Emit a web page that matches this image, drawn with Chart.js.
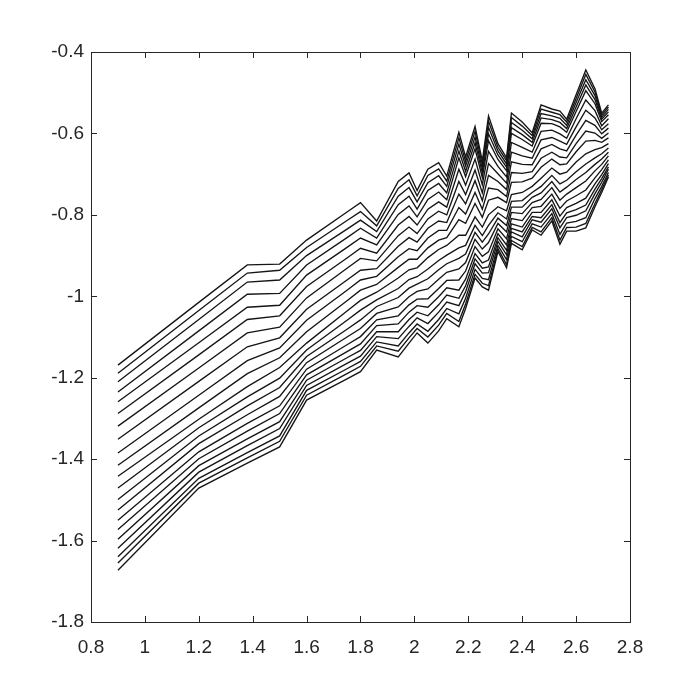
<!DOCTYPE html>
<html>
<head>
<meta charset="utf-8">
<style>html,body{margin:0;padding:0;background:#fff}#wrap{width:700px;height:700px}</style>
<script src="https://cdn.jsdelivr.net/npm/chart.js@4/dist/chart.umd.min.js"></script>
</head>
<body>
<div id="wrap"><canvas id="c" width="700" height="700"></canvas></div>
<script>
const xValues = [0.90, 1.20, 1.38, 1.50, 1.60, 1.75, 1.80, 1.86, 1.94, 1.98, 2.01, 2.05, 2.09, 2.12, 2.165, 2.19, 2.225, 2.252, 2.275, 2.31, 2.342, 2.36, 2.40, 2.437, 2.47, 2.51, 2.54, 2.565, 2.60, 2.636, 2.67, 2.695, 2.72];

const curve01 = [-1.673,-1.471,-1.410,-1.370,-1.255,-1.203,-1.185,-1.132,-1.149,-1.115,-1.090,-1.115,-1.085,-1.055,-1.075,-1.030,-0.955,-0.977,-0.985,-0.890,-0.930,-0.870,-0.886,-0.837,-0.850,-0.815,-0.872,-0.840,-0.840,-0.832,-0.780,-0.745,-0.707];
const curve02 = [-1.655,-1.459,-1.397,-1.356,-1.243,-1.190,-1.172,-1.122,-1.135,-1.102,-1.079,-1.100,-1.071,-1.042,-1.062,-1.019,-0.946,-0.968,-0.974,-0.883,-0.922,-0.863,-0.878,-0.831,-0.842,-0.807,-0.862,-0.831,-0.830,-0.821,-0.772,-0.738,-0.702];
const curve03 = [-1.640,-1.447,-1.384,-1.343,-1.231,-1.178,-1.160,-1.112,-1.122,-1.090,-1.068,-1.086,-1.057,-1.030,-1.043,-1.005,-0.934,-0.956,-0.959,-0.875,-0.910,-0.853,-0.866,-0.822,-0.830,-0.797,-0.848,-0.820,-0.816,-0.807,-0.760,-0.730,-0.696];
const curve04 = [-1.619,-1.432,-1.367,-1.325,-1.219,-1.165,-1.147,-1.099,-1.104,-1.074,-1.053,-1.067,-1.039,-1.014,-1.023,-0.989,-0.920,-0.943,-0.942,-0.865,-0.898,-0.842,-0.854,-0.812,-0.818,-0.785,-0.832,-0.807,-0.801,-0.790,-0.748,-0.720,-0.688];
const curve05 = [-1.597,-1.416,-1.350,-1.308,-1.206,-1.151,-1.133,-1.087,-1.087,-1.057,-1.039,-1.048,-1.021,-0.997,-1.005,-0.974,-0.908,-0.931,-0.928,-0.856,-0.887,-0.833,-0.842,-0.804,-0.807,-0.775,-0.819,-0.795,-0.787,-0.776,-0.737,-0.711,-0.682];
const curve06 = [-1.573,-1.399,-1.331,-1.288,-1.193,-1.136,-1.117,-1.072,-1.068,-1.039,-1.023,-1.027,-1.001,-0.979,-0.985,-0.958,-0.895,-0.918,-0.911,-0.846,-0.874,-0.822,-0.830,-0.794,-0.794,-0.763,-0.803,-0.782,-0.772,-0.759,-0.724,-0.701,-0.674];
const curve07 = [-1.550,-1.382,-1.312,-1.269,-1.179,-1.119,-1.099,-1.058,-1.048,-1.021,-1.007,-1.006,-0.981,-0.961,-0.960,-0.938,-0.878,-0.902,-0.891,-0.834,-0.859,-0.809,-0.814,-0.782,-0.779,-0.749,-0.784,-0.766,-0.753,-0.739,-0.709,-0.689,-0.665];
const curve08 = [-1.525,-1.362,-1.291,-1.246,-1.163,-1.100,-1.079,-1.042,-1.026,-1.001,-0.988,-0.982,-0.958,-0.941,-0.933,-0.917,-0.860,-0.884,-0.868,-0.821,-0.842,-0.794,-0.797,-0.770,-0.762,-0.733,-0.764,-0.749,-0.733,-0.717,-0.692,-0.676,-0.655];
const curve09 = [-1.499,-1.343,-1.269,-1.224,-1.148,-1.081,-1.058,-1.025,-1.003,-0.980,-0.970,-0.957,-0.935,-0.920,-0.907,-0.896,-0.843,-0.867,-0.847,-0.808,-0.826,-0.781,-0.781,-0.757,-0.746,-0.718,-0.744,-0.732,-0.713,-0.696,-0.676,-0.663,-0.646];
const curve10 = [-1.471,-1.323,-1.247,-1.201,-1.132,-1.059,-1.034,-1.009,-0.981,-0.959,-0.952,-0.933,-0.912,-0.899,-0.881,-0.875,-0.826,-0.851,-0.826,-0.795,-0.810,-0.767,-0.765,-0.745,-0.730,-0.703,-0.724,-0.715,-0.694,-0.675,-0.660,-0.650,-0.636];
const curve11 = [-1.442,-1.302,-1.222,-1.175,-1.115,-1.036,-1.010,-0.990,-0.955,-0.935,-0.930,-0.905,-0.885,-0.875,-0.850,-0.850,-0.805,-0.830,-0.800,-0.780,-0.790,-0.750,-0.745,-0.730,-0.710,-0.685,-0.700,-0.695,-0.670,-0.650,-0.640,-0.635,-0.625];
const curve12 = [-1.415,-1.274,-1.190,-1.151,-1.087,-1.011,-0.985,-0.971,-0.929,-0.909,-0.909,-0.881,-0.862,-0.856,-0.812,-0.821,-0.772,-0.806,-0.764,-0.757,-0.770,-0.720,-0.719,-0.710,-0.683,-0.663,-0.677,-0.675,-0.645,-0.619,-0.617,-0.622,-0.611];
const curve13 = [-1.385,-1.243,-1.158,-1.127,-1.059,-0.985,-0.960,-0.951,-0.903,-0.883,-0.888,-0.857,-0.838,-0.838,-0.782,-0.798,-0.745,-0.786,-0.734,-0.738,-0.755,-0.696,-0.698,-0.694,-0.661,-0.646,-0.658,-0.660,-0.625,-0.594,-0.599,-0.612,-0.599];
const curve14 = [-1.351,-1.209,-1.124,-1.102,-1.032,-0.960,-0.936,-0.932,-0.877,-0.856,-0.867,-0.833,-0.815,-0.819,-0.749,-0.773,-0.716,-0.765,-0.703,-0.718,-0.738,-0.670,-0.676,-0.677,-0.638,-0.627,-0.638,-0.643,-0.604,-0.568,-0.580,-0.601,-0.587];
const curve15 = [-1.319,-1.176,-1.090,-1.076,-1.004,-0.931,-0.907,-0.913,-0.851,-0.830,-0.846,-0.810,-0.791,-0.800,-0.718,-0.750,-0.690,-0.746,-0.674,-0.699,-0.722,-0.646,-0.655,-0.661,-0.616,-0.610,-0.619,-0.627,-0.584,-0.543,-0.562,-0.591,-0.576];
const curve16 = [-1.288,-1.144,-1.057,-1.048,-0.976,-0.906,-0.882,-0.894,-0.825,-0.804,-0.825,-0.786,-0.768,-0.781,-0.688,-0.727,-0.663,-0.726,-0.644,-0.681,-0.707,-0.622,-0.634,-0.646,-0.595,-0.592,-0.601,-0.612,-0.564,-0.518,-0.544,-0.581,-0.564];
const curve17 = [-1.259,-1.114,-1.027,-1.022,-0.948,-0.880,-0.857,-0.874,-0.799,-0.778,-0.805,-0.762,-0.744,-0.763,-0.660,-0.706,-0.638,-0.708,-0.618,-0.664,-0.692,-0.600,-0.615,-0.631,-0.575,-0.576,-0.584,-0.597,-0.546,-0.495,-0.527,-0.571,-0.554];
const curve18 = [-1.235,-1.085,-0.995,-0.993,-0.923,-0.856,-0.833,-0.857,-0.775,-0.754,-0.786,-0.740,-0.723,-0.746,-0.643,-0.693,-0.623,-0.697,-0.601,-0.653,-0.683,-0.586,-0.603,-0.622,-0.562,-0.566,-0.573,-0.588,-0.535,-0.481,-0.517,-0.565,-0.547];
const curve19 = [-1.210,-1.057,-0.965,-0.960,-0.900,-0.835,-0.813,-0.841,-0.754,-0.733,-0.768,-0.721,-0.704,-0.730,-0.626,-0.680,-0.609,-0.687,-0.585,-0.643,-0.675,-0.573,-0.592,-0.613,-0.551,-0.557,-0.563,-0.580,-0.524,-0.468,-0.507,-0.560,-0.541];
const curve20 = [-1.189,-1.035,-0.943,-0.936,-0.880,-0.814,-0.792,-0.827,-0.735,-0.714,-0.753,-0.703,-0.687,-0.717,-0.611,-0.669,-0.595,-0.677,-0.570,-0.634,-0.667,-0.561,-0.582,-0.605,-0.540,-0.548,-0.554,-0.572,-0.514,-0.455,-0.498,-0.555,-0.535];
const curve21 = [-1.169,-1.015,-0.923,-0.921,-0.862,-0.793,-0.770,-0.815,-0.718,-0.697,-0.740,-0.688,-0.672,-0.705,-0.597,-0.658,-0.583,-0.668,-0.557,-0.625,-0.660,-0.550,-0.572,-0.598,-0.530,-0.540,-0.545,-0.565,-0.505,-0.444,-0.490,-0.550,-0.530];

const xTickLabels = ['0.8','1','1.2','1.4','1.6','1.8','2','2.2','2.4','2.6','2.8'];
const yTickLabels = ['-1.8','-1.6','-1.4','-1.2','-1','-0.8','-0.6','-0.4'];

const curves = [curve01,curve02,curve03,curve04,curve05,curve06,curve07,curve08,curve09,curve10,curve11,curve12,curve13,curve14,curve15,curve16,curve17,curve18,curve19,curve20,curve21];

const AXIS_COLOR = '#262626';
const tickFont = {family: '"Liberation Sans Narrow", "Liberation Sans", Arial, sans-serif', size: 19};

const datasets = curves.map((c, k) => ({
  label: 'curve' + (k + 1),
  data: xValues.map((x, i) => ({x: x, y: c[i]})),
  borderColor: '#151515',
  borderWidth: 1.35,
  fill: false,
  pointRadius: 0,
  tension: 0
}));

const framePlugin = {
  id: 'frame',
  afterDraw(chart) {
    const {ctx, chartArea: a, scales: {x, y}} = chart;
    ctx.save();
    ctx.strokeStyle = AXIS_COLOR;
    ctx.lineWidth = 1;
    ctx.strokeRect(Math.round(a.left) + 0.5, Math.round(a.top) + 0.5, Math.round(a.right - a.left), Math.round(a.bottom - a.top));
    const L = 6;
    ctx.beginPath();
    x.ticks.forEach(t => {
      const px = Math.round(x.getPixelForValue(t.value)) + 0.5;
      ctx.moveTo(px, a.bottom); ctx.lineTo(px, a.bottom - L);
      ctx.moveTo(px, a.top); ctx.lineTo(px, a.top + L);
    });
    y.ticks.forEach(t => {
      const py = Math.round(y.getPixelForValue(t.value)) + 0.5;
      ctx.moveTo(a.left, py); ctx.lineTo(a.left + L, py);
      ctx.moveTo(a.right, py); ctx.lineTo(a.right - L, py);
    });
    ctx.stroke();
    ctx.restore();
  }
};

new Chart(document.getElementById('c'), {
  type: 'line',
  data: {datasets: datasets},
  options: {
    responsive: false,
    animation: false,
    devicePixelRatio: 1,
    layout: {padding: {left: 0, right: 70, top: 52, bottom: 28}},
    plugins: {legend: {display: false}, tooltip: {enabled: false}},
    elements: {point: {radius: 0}, line: {tension: 0}},
    scales: {
      x: {
        type: 'linear', min: 0.8, max: 2.8,
        grid: {display: false, drawTicks: false},
        border: {display: false},
        ticks: {stepSize: 0.2, autoSkip: false, maxRotation: 0, padding: 14, color: AXIS_COLOR, font: tickFont,
                callback: (v, i) => xTickLabels[i]},
        afterFit: s => { s.height = 50; }
      },
      y: {
        type: 'linear', min: -1.8, max: -0.4,
        grid: {display: false, drawTicks: false},
        border: {display: false},
        ticks: {stepSize: 0.2, autoSkip: false, padding: 7, color: AXIS_COLOR, font: tickFont,
                callback: (v, i) => yTickLabels[i]},
        afterFit: s => { s.width = 91; }
      }
    }
  },
  plugins: [framePlugin]
});
</script>
</body>
</html>
